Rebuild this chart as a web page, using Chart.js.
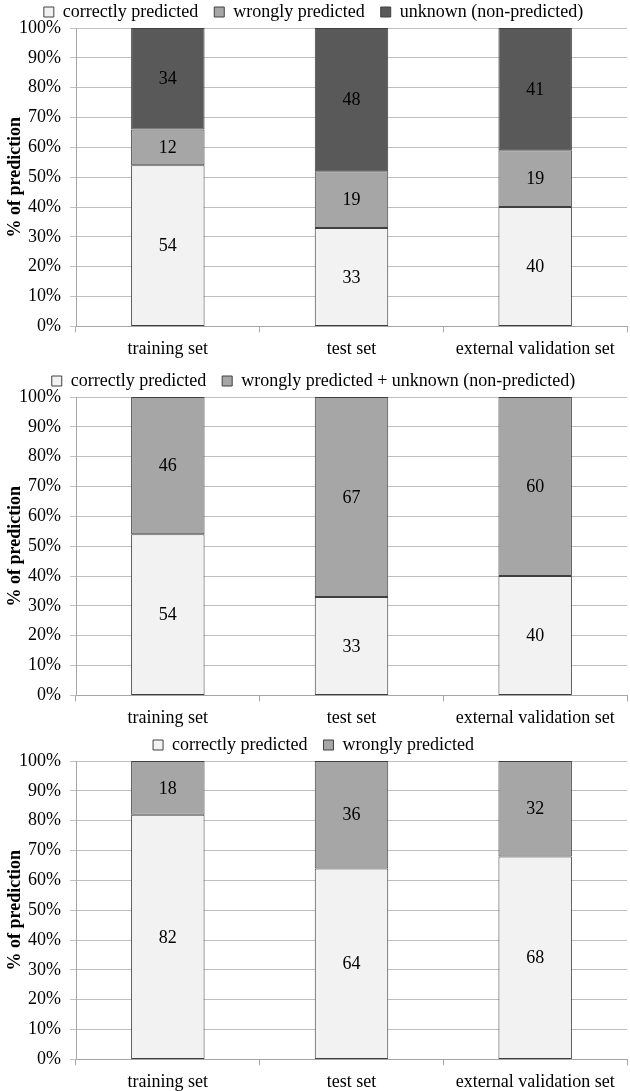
<!DOCTYPE html>
<html>
<head>
<meta charset="utf-8">
<script src="https://cdn.jsdelivr.net/npm/chart.js@4.4.1/dist/chart.umd.min.js"></script>
<style>
  html, body { margin:0; padding:0; background:#fff; overflow:hidden; width:630px; height:1091px; }
  .box { position:absolute; left:0; width:630px; height:368px; }
</style>
</head>
<body>
<div class="box" style="top:0px"><canvas id="c1"></canvas></div>
<div class="box" style="top:369px"><canvas id="c2"></canvas></div>
<div class="box" style="top:733px"><canvas id="c3"></canvas></div>
<script>
const categories = ['training set', 'test set', 'external validation set'];
const yTicks = [0, 10, 20, 30, 40, 50, 60, 70, 80, 90, 100];

// top chart
const correct1 = [54, 33, 40];
const wrong1 = [12, 19, 19];
const unknown1 = [34, 48, 41];
// middle chart
const correct2 = [54, 33, 40];
const wrongUnknown2 = [46, 67, 60];
// bottom chart
const correct3 = [82, 64, 68];
const wrong3 = [18, 36, 32];

const LIGHT = '#f2f2f2', MID = '#a6a6a6', DARK = '#595959';

Chart.defaults.font.family = '"Liberation Serif", "Times New Roman", serif';
Chart.defaults.font.size = 18;
Chart.defaults.color = '#000';

// numbers in the middle of every segment
const valueLabels = {
  id: 'valueLabels',
  afterDatasetsDraw(chart) {
    const ctx = chart.ctx;
    ctx.save();
    ctx.font = '18px "Liberation Serif", serif';
    ctx.fillStyle = '#000';
    ctx.textAlign = 'center';
    ctx.textBaseline = 'middle';
    chart.data.datasets.forEach((ds, i) => {
      chart.getDatasetMeta(i).data.forEach((bar, j) => {
        ctx.fillText(ds.data[j], bar.x, (bar.y + bar.base) / 2 + 1);
      });
    });
    ctx.restore();
  }
};

function ds(label, data, color) {
  return {
    label: label, data: data, backgroundColor: color,
    borderColor: '#404040', borderWidth: 1, borderSkipped: false,
    barPercentage: 0.4, categoryPercentage: 1
  };
}

function drawe(id, datasets) {
  new Chart(document.getElementById(id), {
    type: 'bar',
    data: { labels: categories, datasets: datasets },
    plugins: [valueLabels],
    options: {
      responsive: true,
      maintainAspectRatio: false,
      animation: false,
      layout: { padding: { top: -13, right: 3, bottom: 2, left: 0 } },
      plugins: {
        legend: {
          position: 'top',
          maxHeight: 41,
          labels: { boxWidth: 10, boxHeight: 10, padding: 16, font: { size: 18 } }
        },
        tooltip: { enabled: false }
      },
      scales: {
        x: {
          stacked: true,
          grid: { drawOnChartArea: false, offset: true, tickLength: 6, color: '#a6a6a6' },
          border: { color: '#a6a6a6' },
          ticks: { padding: 6, maxRotation: 0, font: { size: 18 } }
        },
        y: {
          stacked: true,
          min: 0, max: 100,
          afterFit(s) { s.width = 76; },
          afterBuildTicks(s) { s.ticks = yTicks.map(v => ({ value: v })); },
          grid: { color: '#c0c0c0', tickLength: 6 },
          border: { color: '#a6a6a6' },
          ticks: { padding: 9, font: { size: 18 }, callback: v => v + '%' },
          title: {
            display: true, text: '% of prediction',
            font: { size: 18, weight: 'bold', lineHeight: 1 },
            padding: { top: 6, bottom: 0 }
          }
        }
      }
    }
  });
}

drawe('c1', [
  ds('correctly predicted', correct1, LIGHT),
  ds('wrongly predicted', wrong1, MID),
  ds('unknown (non-predicted)', unknown1, DARK)
]);
drawe('c2', [
  ds('correctly predicted', correct2, LIGHT),
  ds('wrongly predicted + unknown (non-predicted)', wrongUnknown2, MID)
]);
drawe('c3', [
  ds('correctly predicted', correct3, LIGHT),
  ds('wrongly predicted', wrong3, MID)
]);
</script>
</body>
</html>
